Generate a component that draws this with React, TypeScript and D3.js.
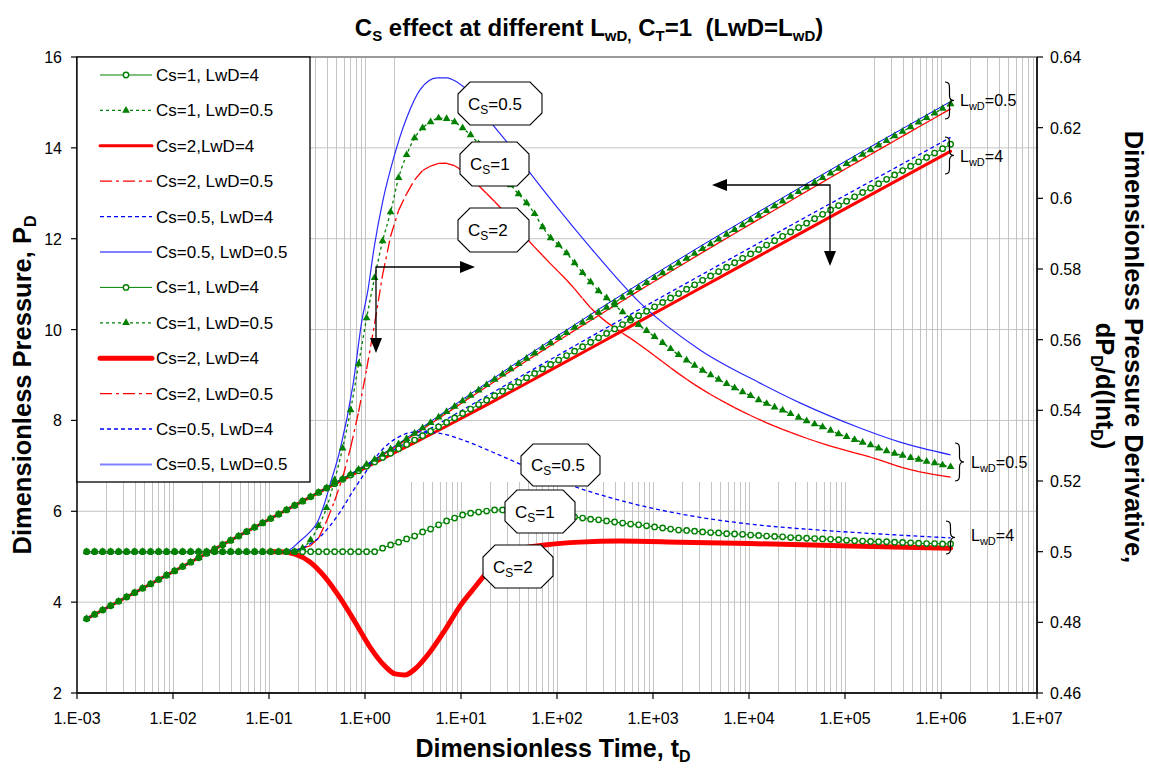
import React from "react";
import * as d3 from "d3";

const FONT = "'Liberation Sans', Arial, Helvetica, sans-serif";
const W = 1149;
const H = 768;
// plot frame
const PL = 77;
const PR = 1037;
const PT = 57;
const PB = 693;

// log10(tD) sampling of the densely recorded runs (Cs=1)
const denseLogT = d3.range(109).map((k) => -2.9 + k / 12);

// ---- Cs=1 runs (dense, with markers) ----
const cs1Lwd4Pd = [
  3.633, 3.729, 3.825, 3.921, 4.017, 4.113, 4.209, 4.304, 4.4, 4.496, 4.592, 4.688, 4.784, 4.88, 4.976, 5.072,
  5.168, 5.263, 5.359, 5.455, 5.551, 5.647, 5.743, 5.839, 5.935, 6.031, 6.127, 6.223, 6.319, 6.415, 6.511, 6.607,
  6.703, 6.798, 6.894, 6.99, 7.086, 7.182, 7.278, 7.374, 7.471, 7.568, 7.665, 7.762, 7.859, 7.957, 8.054, 8.152,
  8.25, 8.348, 8.446, 8.544, 8.643, 8.741, 8.839, 8.937, 9.035, 9.133, 9.231, 9.329, 9.427, 9.525, 9.623, 9.721,
  9.818, 9.916, 10.014, 10.111, 10.209, 10.306, 10.403, 10.501, 10.598, 10.695, 10.792, 10.889, 10.986, 11.083,
  11.18, 11.277, 11.374, 11.471, 11.568, 11.665, 11.762, 11.859, 11.956, 12.052, 12.149, 12.246, 12.342, 12.439,
  12.536, 12.632, 12.729, 12.825, 12.922, 13.018, 13.115, 13.211, 13.308, 13.404, 13.501, 13.597, 13.693, 13.79,
  13.886, 13.982, 14.079,
];
const cs1Lwd05Pd = [
  3.633, 3.729, 3.825, 3.921, 4.017, 4.113, 4.209, 4.304, 4.4, 4.496, 4.592, 4.688, 4.784, 4.88, 4.976, 5.072,
  5.168, 5.263, 5.359, 5.455, 5.551, 5.647, 5.743, 5.839, 5.935, 6.031, 6.127, 6.223, 6.319, 6.416, 6.514, 6.613,
  6.714, 6.816, 6.921, 7.029, 7.138, 7.25, 7.364, 7.479, 7.596, 7.714, 7.832, 7.951, 8.071, 8.19, 8.309, 8.429,
  8.547, 8.666, 8.783, 8.901, 9.017, 9.134, 9.249, 9.364, 9.479, 9.593, 9.706, 9.819, 9.931, 10.043, 10.155,
  10.266, 10.376, 10.486, 10.596, 10.705, 10.814, 10.922, 11.03, 11.138, 11.245, 11.352, 11.459, 11.566, 11.672,
  11.778, 11.884, 11.989, 12.094, 12.199, 12.304, 12.409, 12.513, 12.617, 12.721, 12.825, 12.928, 13.032, 13.135,
  13.238, 13.341, 13.443, 13.546, 13.648, 13.75, 13.852, 13.954, 14.056, 14.157, 14.259, 14.36, 14.461, 14.562,
  14.663, 14.764, 14.864, 14.965,
];
const cs1Lwd4Deriv = [
  0.5, 0.5, 0.5, 0.5, 0.5, 0.5, 0.5, 0.5, 0.5, 0.5, 0.5, 0.5, 0.5, 0.5, 0.5, 0.5, 0.5, 0.5, 0.5, 0.5, 0.5, 0.5,
  0.5, 0.5, 0.5, 0.5, 0.5, 0.5, 0.5, 0.5, 0.5, 0.5, 0.5, 0.5, 0.5, 0.5, 0.5, 0.501, 0.5019, 0.5027, 0.5036,
  0.5044, 0.5056, 0.5064, 0.5076, 0.5087, 0.5095, 0.5104, 0.5109, 0.5112, 0.5115, 0.5118, 0.5118, 0.5118, 0.5115,
  0.5115, 0.5112, 0.5109, 0.5107, 0.5104, 0.5101, 0.5098, 0.5095, 0.5092, 0.509, 0.5087, 0.5084, 0.5081, 0.5078,
  0.5076, 0.5073, 0.507, 0.5067, 0.5064, 0.5061, 0.506, 0.5058, 0.5056, 0.5054, 0.5053, 0.5051, 0.505, 0.5049,
  0.5047, 0.5046, 0.5044, 0.5043, 0.5042, 0.504, 0.5039, 0.5038, 0.5037, 0.5036, 0.5035, 0.5034, 0.5032, 0.5031,
  0.503, 0.5029, 0.5028, 0.5028, 0.5027, 0.5026, 0.5025, 0.5024, 0.5023, 0.5023, 0.5022, 0.5022,
];
const cs1Lwd05Deriv = [
  0.5, 0.5, 0.5, 0.5, 0.5, 0.5, 0.5, 0.5, 0.5, 0.5, 0.5, 0.5, 0.5, 0.5, 0.5, 0.5, 0.5, 0.5, 0.5, 0.5, 0.5, 0.5,
  0.5, 0.5, 0.5, 0.5, 0.5, 0.501, 0.5033, 0.5073, 0.5124, 0.5203, 0.5293, 0.5401, 0.5531, 0.5661, 0.5775, 0.5879,
  0.5961, 0.6058, 0.6123, 0.6171, 0.6199, 0.6216, 0.6227, 0.6225, 0.6216, 0.6199, 0.6179, 0.6154, 0.6125, 0.6097,
  0.6066, 0.6038, 0.6012, 0.5987, 0.5956, 0.5919, 0.5888, 0.5868, 0.5845, 0.5817, 0.5789, 0.5763, 0.5738, 0.5718,
  0.5698, 0.5678, 0.566, 0.5642, 0.5625, 0.5608, 0.5591, 0.5574, 0.5557, 0.5542, 0.5527, 0.5513, 0.55, 0.5487,
  0.5475, 0.5463, 0.5452, 0.5441, 0.5429, 0.5419, 0.5409, 0.54, 0.539, 0.538, 0.537, 0.5361, 0.5353, 0.5343,
  0.5333, 0.5325, 0.5317, 0.5309, 0.5302, 0.5293, 0.5285, 0.5278, 0.5272, 0.5266, 0.5261, 0.5255, 0.5251, 0.5245,
  0.524,
];

// ---- Cs=2 and Cs=0.5 runs: [log10 tD, value] ----
const cs2Lwd4Pd: [number, number][] = [
  [-2.9, 3.633], [-0.885, 5.953], [-0.417, 6.489], [0.052, 7.011], [0.417, 7.404], [0.833, 7.855], [1.302, 8.381],
  [1.875, 9.04], [2.656, 9.944], [3.281, 10.668], [4.01, 11.511], [5.052, 12.716], [6.1, 13.925],
];
const cs2Lwd05Pd: [number, number][] = [
  [-2.9, 3.633], [-0.833, 6.013], [-0.417, 6.494], [-0.052, 6.933], [0.198, 7.256], [0.4375, 7.583], [0.708, 7.96],
  [0.958, 8.311], [1.229, 8.689], [1.698, 9.332], [2.167, 9.96], [2.865, 10.87], [3.49, 11.665], [4.115, 12.444],
  [4.74, 13.213], [5.365, 13.973], [6.1, 14.859],
];
const cs05Lwd4Pd: [number, number][] = [
  [-2.9, 3.633], [-0.833, 6.013], [-0.365, 6.555], [0.021, 7.013], [0.333, 7.392], [0.75, 7.904], [1.302, 8.58],
  [2.135, 9.584], [2.76, 10.327], [3.281, 10.942], [4.01, 11.797], [4.74, 12.649], [5.365, 13.376], [6.1, 14.23],
];
const cs05Lwd05Pd: [number, number][] = [
  [-2.9, 3.633], [-0.833, 6.013], [-0.573, 6.314], [-0.365, 6.559], [-0.125, 6.853], [0.031, 7.054], [0.1875, 7.266],
  [0.4375, 7.619], [0.75, 8.073], [1.094, 8.575], [1.479, 9.127], [2.0, 9.855], [2.865, 11.018], [3.49, 11.829],
  [4.115, 12.61], [5.156, 13.89], [6.1, 15.02],
];
const cs2Lwd4Deriv: [number, number][] = [
  [-1.0, 0.5], [-0.885, 0.5], [-0.729, 0.4993], [-0.573, 0.4971], [-0.417, 0.4928], [-0.26, 0.4869], [-0.104, 0.4801],
  [0.052, 0.473], [0.208, 0.4676], [0.3125, 0.4654], [0.417, 0.4651], [0.521, 0.4668], [0.677, 0.4716], [0.833, 0.4778],
  [0.99, 0.4846], [1.146, 0.49], [1.302, 0.4951], [1.458, 0.4985], [1.615, 0.5008], [1.875, 0.5019], [2.24, 0.5027],
  [2.656, 0.503], [3.281, 0.5027], [4.01, 0.5023], [5.052, 0.5016], [6.1, 0.501],
];
const cs2Lwd05Deriv: [number, number][] = [
  [-2.9, 0.5], [-0.833, 0.5], [-0.677, 0.5008], [-0.521, 0.5025], [-0.417, 0.5076], [-0.333, 0.5132], [-0.25, 0.5194],
  [-0.156, 0.5288], [-0.052, 0.5415], [0.052, 0.5571], [0.125, 0.5684], [0.198, 0.5806], [0.292, 0.5919],
  [0.4375, 0.6015], [0.573, 0.6072], [0.708, 0.6094], [0.8125, 0.61], [0.958, 0.6089], [1.094, 0.606], [1.229, 0.6024],
  [1.406, 0.5975], [1.698, 0.5882], [1.896, 0.5825], [2.167, 0.5749], [2.344, 0.5692], [2.865, 0.5585], [3.49, 0.5463],
  [4.115, 0.5373], [4.74, 0.5308], [5.365, 0.5259], [5.573, 0.524], [6.1, 0.5211],
];
const cs05Lwd4Deriv: [number, number][] = [
  [-2.9, 0.5], [-0.833, 0.5], [-0.677, 0.5008], [-0.573, 0.5022], [-0.469, 0.5042], [-0.365, 0.5073], [-0.26, 0.5112],
  [-0.125, 0.5172], [0.021, 0.5231], [0.156, 0.5282], [0.333, 0.5322], [0.542, 0.5339], [0.75, 0.5336], [1.021, 0.5316],
  [1.302, 0.5285], [1.615, 0.5248], [2.135, 0.5189], [2.76, 0.5138], [3.281, 0.5107], [4.01, 0.5078], [4.74, 0.5061],
  [5.365, 0.505], [6.1, 0.5039],
];
const cs05Lwd05Deriv: [number, number][] = [
  [-2.9, 0.5], [-0.833, 0.5], [-0.677, 0.503], [-0.573, 0.5056], [-0.5, 0.5081], [-0.427, 0.5132], [-0.365, 0.5189],
  [-0.26, 0.5288], [-0.125, 0.5472], [-0.031, 0.5656], [0.031, 0.5741], [0.094, 0.5859], [0.1875, 0.5995],
  [0.292, 0.6108], [0.4375, 0.623], [0.573, 0.6307], [0.75, 0.6341], [0.854, 0.6341], [0.958, 0.6329], [1.094, 0.6298],
  [1.198, 0.6259], [1.333, 0.6208], [1.479, 0.6159], [1.719, 0.6072], [2.0, 0.5975], [2.344, 0.5862], [2.865, 0.5704],
  [3.49, 0.5571], [4.115, 0.5477], [4.531, 0.5421], [5.156, 0.535], [5.573, 0.531], [6.1, 0.5274],
];

// axis ticks
const pdTicks = [2, 4, 6, 8, 10, 12, 14, 16];
const derivTicks = [0.46, 0.48, 0.5, 0.52, 0.54, 0.56, 0.58, 0.6, 0.62, 0.64];
const timeDecades = [-3, -2, -1, 0, 1, 2, 3, 4, 5, 6, 7];

type Style = {
  label: string;
  color: string;
  width: number;
  dash?: string;
  marker?: "circle" | "triangle";
  legendColor?: string;
  legendWidth?: number;
  stepDash?: boolean; // dash pattern restarts at every plotted step (as spreadsheet renderers do)
};

const legendStyles: Style[] = [
  { label: "Cs=1, LwD=4", color: "#008000", width: 1, marker: "circle" },
  { label: "Cs=1, LwD=0.5", color: "#008000", width: 1.3, dash: "3,3", marker: "triangle" },
  { label: "Cs=2,LwD=4", color: "#ff0000", width: 3 },
  { label: "Cs=2, LwD=0.5", color: "#ff0000", width: 1.3, dash: "12,4,3,4", stepDash: true },
  { label: "Cs=0.5, LwD=4", color: "#0000ff", width: 1.3, dash: "4,3" },
  { label: "Cs=0.5, LwD=0.5", color: "#0000ff", width: 1 },
  { label: "Cs=1, LwD=4", color: "#008000", width: 1, marker: "circle" },
  { label: "Cs=1, LwD=0.5", color: "#008000", width: 1.3, dash: "3,3", marker: "triangle" },
  { label: "Cs=2, LwD=4", color: "#ff0000", width: 5 },
  { label: "Cs=2, LwD=0.5", color: "#ff0000", width: 1.3, dash: "12,4,3,4", stepDash: true },
  { label: "Cs=0.5, LwD=4", color: "#0000ff", width: 1.3, dash: "4,3" },
  { label: "Cs=0.5, LwD=0.5", color: "#2a2aff", width: 1.2, legendColor: "#8080ff", legendWidth: 2 },
];

const dense = (vals: number[]): [number, number][] => denseLogT.map((L, i) => [L, vals[i]]);

// Points along the monotone (Steffen) curve through pts, one every `step` in log10 tD.
function curveSteps(pts: [number, number][], step: number): [number, number][] {
  const n = pts.length;
  const x = pts.map((p) => p[0]);
  const y = pts.map((p) => p[1]);
  const h: number[] = [];
  const s: number[] = [];
  for (let i = 0; i < n - 1; i++) {
    h.push(x[i + 1] - x[i]);
    s.push((y[i + 1] - y[i]) / (x[i + 1] - x[i]));
  }
  const m: number[] = new Array(n).fill(0);
  for (let i = 1; i < n - 1; i++) {
    const p = (s[i - 1] * h[i] + s[i] * h[i - 1]) / (h[i - 1] + h[i]);
    m[i] = (Math.sign(s[i - 1]) + Math.sign(s[i])) * Math.min(Math.abs(s[i - 1]), Math.abs(s[i]), 0.5 * Math.abs(p)) || 0;
  }
  m[0] = n > 2 ? (3 * s[0] - m[1]) / 2 : s[0];
  m[n - 1] = n > 2 ? (3 * s[n - 2] - m[n - 2]) / 2 : s[n - 2];
  const out: [number, number][] = [];
  let seg = 0;
  for (let L = x[0]; L <= x[n - 1] + 1e-9; L += step) {
    while (seg < n - 2 && L > x[seg + 1]) seg++;
    const t = (L - x[seg]) / h[seg];
    const t2 = t * t;
    const t3 = t2 * t;
    const v =
      (2 * t3 - 3 * t2 + 1) * y[seg] +
      (t3 - 2 * t2 + t) * h[seg] * m[seg] +
      (-2 * t3 + 3 * t2) * y[seg + 1] +
      (t3 - t2) * h[seg] * m[seg + 1];
    out.push([L, v]);
  }
  return out;
}

export default function App() {
  const xs = d3.scaleLog().domain([1e-3, 1e7]).range([PL, PR]);
  const yP = d3.scaleLinear().domain([2, 16]).range([PB, PT]);
  const yD = d3.scaleLinear().domain([0.46, 0.64]).range([PB, PT]);
  const xL = (L: number) => xs(Math.pow(10, L));

  const pathOf = (pts: [number, number][], ys: d3.ScaleLinear<number, number>) =>
    d3
      .line<[number, number]>()
      .x((d) => xL(d[0]))
      .y((d) => ys(d[1]))
      .curve(d3.curveMonotoneX)(pts) || "";

  // draw order: Cs=2 and Cs=0.5 first, Cs=1 (markers) on top
  const series: { pts: [number, number][]; ys: any; st: Style }[] = [
    { pts: cs2Lwd4Pd, ys: yP, st: legendStyles[2] },
    { pts: cs2Lwd05Pd, ys: yP, st: legendStyles[3] },
    { pts: cs05Lwd4Pd, ys: yP, st: legendStyles[4] },
    { pts: cs05Lwd05Pd, ys: yP, st: legendStyles[5] },
    { pts: cs2Lwd4Deriv, ys: yD, st: legendStyles[8] },
    { pts: cs2Lwd05Deriv, ys: yD, st: legendStyles[9] },
    { pts: cs05Lwd4Deriv, ys: yD, st: legendStyles[10] },
    { pts: cs05Lwd05Deriv, ys: yD, st: legendStyles[11] },
    { pts: dense(cs1Lwd4Pd), ys: yP, st: legendStyles[0] },
    { pts: dense(cs1Lwd4Deriv), ys: yD, st: legendStyles[6] },
    { pts: dense(cs1Lwd05Pd), ys: yP, st: legendStyles[1] },
    { pts: dense(cs1Lwd05Deriv), ys: yD, st: legendStyles[7] },
  ];

  const triPath = d3.symbol(d3.symbolTriangle, 26)() || "";

  // vertical grid (decades and 2..9 subdivisions)
  const vGrid: number[] = [];
  for (let e = -3; e < 7; e++) {
    for (let m = 1; m <= 9; m++) {
      if (e === -3 && m === 1) continue;
      vGrid.push(m * Math.pow(10, e));
    }
  }
  const blankTop = 482; // vertical grid is absent above this line in the middle band
  const blankX0 = 398;
  const blankX1 = 865;

  const marker = (st: Style, cx: number, cy: number, key: string | number) => {
    if (st.marker === "circle")
      return <circle key={key} cx={cx} cy={cy} r={2.7} fill="#fff" stroke={st.color} strokeWidth={1.4} />;
    if (st.marker === "triangle")
      return <path key={key} d={triPath} transform={`translate(${cx},${cy})`} fill={st.color} />;
    return null;
  };

  const octagon = (x: number, y: number, w: number, h: number) => {
    const c = 12;
    return `M${x + c},${y}H${x + w - c}L${x + w},${y + c}V${y + h - c}L${x + w - c},${y + h}H${x + c}L${x},${y + h - c}V${y + c}Z`;
  };

  const tags = [
    { x: 458, y: 82, w: 84, h: 43, v: "0.5" },
    { x: 460, y: 142, w: 69, h: 44, v: "1" },
    { x: 458, y: 208, w: 71, h: 44, v: "2" },
    { x: 521, y: 444, w: 79, h: 42, v: "0.5" },
    { x: 505, y: 490, w: 70, h: 43, v: "1" },
    { x: 483, y: 545, w: 70, h: 43, v: "2" },
  ];

  const brace = (x0: number, y0: number, y1: number, w: number) => {
    const ym = (y0 + y1) / 2;
    const xm = x0 + w * 0.5;
    return `M${x0},${y0} C${x0 + w * 0.5},${y0} ${xm},${y0 + 3} ${xm},${y0 + 7} L${xm},${ym - 5} C${xm},${ym - 1} ${x0 + w * 0.7},${ym} ${x0 + w},${ym} C${x0 + w * 0.7},${ym} ${xm},${ym + 1} ${xm},${ym + 5} L${xm},${y1 - 7} C${xm},${y1 - 3} ${x0 + w * 0.5},${y1} ${x0},${y1}`;
  };

  const braces = [
    { x: 945, y0: 82, y1: 119, tx: 960, ty: 106, v: "0.5" },
    { x: 945, y0: 137, y1: 174, tx: 960, ty: 162, v: "4" },
    { x: 955, y0: 443, y1: 481, tx: 971, ty: 468, v: "0.5" },
    { x: 946, y0: 521, y1: 554, tx: 971, ty: 541, v: "4" },
  ];

  const expLabel = (e: number) => `1.E${e < 0 ? "-" : "+"}${String(Math.abs(e)).padStart(2, "0")}`;

  return (
    <svg
      width={W}
      height={H}
      viewBox={`0 0 ${W} ${H}`}
      style={{ position: "absolute", left: 0, top: 0, background: "#fff", fontFamily: FONT }}
    >
      <rect x={0} y={0} width={W} height={H} fill="#fff" />

      {/* gridlines */}
      <g stroke="#c4c4c4" strokeWidth={1}>
        {pdTicks
          .filter((v) => v > 2 && v < 16)
          .map((v) => (
            <line key={`h${v}`} x1={PL} x2={PR} y1={yP(v)} y2={yP(v)} />
          ))}
        {vGrid.map((t, i) => {
          const x = Math.round(xs(t)) + 0.5;
          const top = x > blankX0 && x < blankX1 ? blankTop : PT;
          return <line key={`v${i}`} x1={x} x2={x} y1={top} y2={PB} />;
        })}
      </g>

      {/* data */}
      <g fill="none" strokeLinejoin="round">
        {series.map((s, i) => {
          if (s.st.stepDash) {
            const steps = curveSteps(s.pts, 1 / 12);
            return (
              <g key={`s${i}`} stroke={s.st.color} strokeWidth={s.st.width} strokeDasharray={s.st.dash}>
                {steps.slice(1).map((p, j) => (
                  <line
                    key={j}
                    x1={xL(steps[j][0])}
                    y1={s.ys(steps[j][1])}
                    x2={xL(p[0])}
                    y2={s.ys(p[1])}
                  />
                ))}
              </g>
            );
          }
          return (
            <path
              key={`s${i}`}
              d={pathOf(s.pts, s.ys)}
              stroke={s.st.color}
              strokeWidth={s.st.width}
              strokeDasharray={s.st.dash}
              strokeLinecap={s.st.width >= 3 ? "round" : "butt"}
            />
          );
        })}
      </g>
      <g>
        {series
          .filter((s) => s.st.marker)
          .map((s, i) => (
            <g key={`m${i}`}>{s.pts.map((p, j) => marker(s.st, xL(p[0]), s.ys(p[1]), j))}</g>
          ))}
      </g>

      {/* frame and axes */}
      <line x1={PL} x2={PR} y1={PT} y2={PT} stroke="#9a9a9a" strokeWidth={2} />
      <line x1={PL} x2={PL} y1={PT} y2={PB} stroke="#000" strokeWidth={1.5} />
      <line x1={PR} x2={PR} y1={PT} y2={PB} stroke="#222" strokeWidth={2} />
      <line x1={PL} x2={PR} y1={PB} y2={PB} stroke="#222" strokeWidth={2} />
      <g stroke="#000" strokeWidth={1.2}>
        {pdTicks.map((v) => (
          <line key={`lt${v}`} x1={PL - 6} x2={PL} y1={yP(v)} y2={yP(v)} />
        ))}
        {derivTicks.map((v) => (
          <line key={`rt${v}`} x1={PR} x2={PR + 6} y1={yD(v)} y2={yD(v)} />
        ))}
        {timeDecades.map((e) => (
          <line key={`bt${e}`} x1={xL(e)} x2={xL(e)} y1={PB} y2={PB + 6} />
        ))}
      </g>
      <g fontSize={16} fill="#000">
        {pdTicks.map((v) => (
          <text key={`ll${v}`} x={PL - 15} y={yP(v) + 6} textAnchor="end">
            {v}
          </text>
        ))}
        {derivTicks.map((v) => (
          <text key={`rl${v}`} x={PR + 13} y={yD(v) + 6}>
            {String(+v.toFixed(2))}
          </text>
        ))}
        {timeDecades.map((e) => (
          <text key={`bl${e}`} x={xL(e)} y={PB + 31} textAnchor="middle">
            {expLabel(e)}
          </text>
        ))}
      </g>

      {/* legend */}
      <rect x={PL} y={PT} width={233} height={425} fill="#fff" stroke="#000" strokeWidth={1.3} />
      {legendStyles.map((st, i) => {
        const cy = 75 + i * 35.4;
        const col = st.legendColor || st.color;
        const lw = st.legendWidth || st.width;
        return (
          <g key={`lg${i}`}>
            <line
              x1={100}
              x2={152}
              y1={cy}
              y2={cy}
              stroke={col}
              strokeWidth={lw}
              strokeDasharray={st.dash}
              strokeLinecap={lw >= 3 ? "round" : "butt"}
            />
            {marker(st, 126, cy, "mk")}
            <text x={156} y={cy + 6} fontSize={17}>
              {st.label}
            </text>
          </g>
        );
      })}

      {/* Cs call-outs */}
      {tags.map((t, i) => (
        <g key={`tag${i}`}>
          <path d={octagon(t.x, t.y, t.w, t.h)} fill="#fff" stroke="#000" strokeWidth={1.1} />
          <text x={t.x + 10} y={t.y + t.h / 2 + 6} fontSize={17}>
            C
            <tspan fontSize={12} dy={4}>
              S
            </tspan>
            <tspan dy={-4}>={t.v}</tspan>
          </text>
        </g>
      ))}

      {/* axis pointer arrows */}
      <g stroke="#000" strokeWidth={1.3} fill="none">
        <polyline points="376,340 376,267 462,267" />
        <polyline points="714,185 830,185 830,253" />
      </g>
      <g fill="#000">
        <polygon points="475,267 460,261 460,273" />
        <polygon points="376,353 370,338 382,338" />
        <polygon points="712,185 727,179 727,191" />
        <polygon points="830,266 824,251 836,251" />
      </g>

      {/* LwD braces */}
      {braces.map((b, i) => (
        <g key={`br${i}`}>
          <path d={brace(b.x, b.y0, b.y1, 9)} fill="none" stroke="#000" strokeWidth={1.2} />
          <text x={b.tx} y={b.ty} fontSize={16}>
            L
            <tspan fontSize={11} dy={4}>
              wD
            </tspan>
            <tspan dy={-4}>={b.v}</tspan>
          </text>
        </g>
      ))}

      {/* titles */}
      <text x={589} y={36} textAnchor="middle" fontSize={24} fontWeight="bold" style={{ whiteSpace: "pre" }}>
        C<tspan fontSize={15} dy={5}>S</tspan>
        <tspan dy={-5}> effect at different L</tspan>
        <tspan fontSize={15} dy={5}>wD,</tspan>
        <tspan dy={-5}> C</tspan>
        <tspan fontSize={15} dy={5}>T</tspan>
        <tspan dy={-5}>=1  (LwD=L</tspan>
        <tspan fontSize={15} dy={5}>wD</tspan>
        <tspan dy={-5}>)</tspan>
      </text>
      <text x={553} y={757} textAnchor="middle" fontSize={25} fontWeight="bold">
        Dimensionless Time, t<tspan fontSize={16} dy={5}>D</tspan>
      </text>
      <text transform="translate(31,385) rotate(-90)" textAnchor="middle" fontSize={25.5} fontWeight="bold">
        Dimensionless Pressure, P<tspan fontSize={16} dy={5}>D</tspan>
      </text>
      <text transform="translate(1125,347) rotate(90)" textAnchor="middle" fontSize={25.5} fontWeight="bold">
        Dimensionless Pressure Derivative,
      </text>
      <text transform="translate(1096,386) rotate(90)" textAnchor="middle" fontSize={25.5} fontWeight="bold">
        dP<tspan fontSize={16} dy={5}>D</tspan>
        <tspan dy={-5}>/d(lnt</tspan>
        <tspan fontSize={16} dy={5}>D</tspan>
        <tspan dy={-5}>)</tspan>
      </text>
    </svg>
  );
}
